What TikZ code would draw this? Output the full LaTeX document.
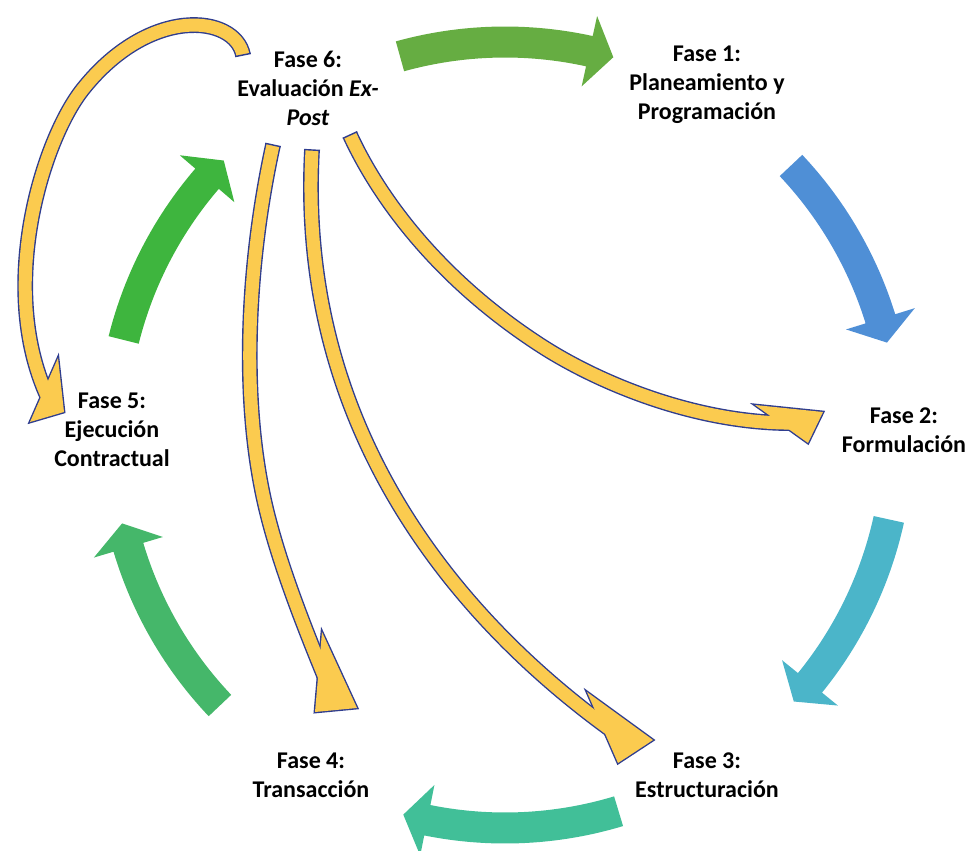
\documentclass[tikz,border=0pt]{standalone}
\usepackage{fontspec}
\setmainfont{Carlito}
\usetikzlibrary{calc}
\definecolor{verdeA}{HTML}{66AD42}
\definecolor{azul}{HTML}{4F8FD6}
\definecolor{cian}{HTML}{4BB5C9}
\definecolor{turquesa}{HTML}{41BF98}
\definecolor{verdeB}{HTML}{45B76A}
\definecolor{verdeC}{HTML}{3EB53E}
\definecolor{amarillo}{HTML}{FBCB4F}
\definecolor{bordeazul}{HTML}{2F3D8F}
\tikzset{
  fase/.style={align=center, font=\fontsize{12}{14.5}\selectfont\bfseries},
  amarilla/.style={draw=bordeazul, line width=0.7pt, double=amarillo, double distance=6.5pt},
  punta/.style={fill=amarillo, draw=bordeazul, line width=1.4pt},
  coda/.style={draw=bordeazul, line width=0.7pt}
}

\begin{document}
\begin{tikzpicture}[x=0.5pt, y=0.5pt]
    % Parametri
    \pgfmathsetmacro{\R}{393}
    \pgfmathsetmacro{\ri}{\R-15.5}
    \pgfmathsetmacro{\ro}{\R+15.5}
    \pgfmathsetmacro{\hi}{\R-36}
    \pgfmathsetmacro{\ho}{\R+36}
    \pgfmathsetmacro{\d}{3.6}
    \useasboundingbox (0,0) rectangle (975,-851);
    \coordinate (c) at (505,-435);
    % ciclo
    \foreach \s/\e/\col in {105.5/74/verdeA, 43.3/13.6/azul, -12.4/-42.7/cian,
        -73.2/-105/turquesa, -136.5/-167/verdeB, 166/135.7/verdeC} {
        \pgfmathsetmacro{\b}{\e+\d}
        \fill[\col] ($(c)+(\s:\ri)$) arc[start angle=\s, end angle=\b, radius=\ri]
            -- ($(c)+(\b:\hi)$) -- ($(c)+(\e:\R)$) -- ($(c)+(\b:\ho)$)
            -- ($(c)+(\b:\ro)$) arc[start angle=\b, end angle=\s, radius=\ro] -- cycle;
    }
    % fasi
    \node[fase] (f6) at (308,-88) {Fase 6:\\Evaluación \textit{Ex-}\\\textit{Post}};
    \node[fase] (f1) at (707,-85) {Fase 1:\\Planeamiento y\\Programación};
    \node[fase] (f2) at (904,-430) {Fase 2:\\Formulación};
    \node[fase] (f3) at (707,-775) {Fase 3:\\Estructuración};
    \node[fase] (f4) at (311,-775) {Fase 4:\\Transacción};
    \node[fase] (f5) at (112,-430) {Fase 5:\\Ejecución\\Contractual};
    % ritorni
    \coordinate (as) at (243,-55);  \coordinate (ak) at (235,-15);
    \coordinate (bs) at (273,-145); \coordinate (bk) at (250,-250);
    \coordinate (cs) at (312,-150); \coordinate (ck) at (296,-440);
    \coordinate (ds) at (350,-135); \coordinate (dk) at (380,-200);
    \coordinate (a1) at (58,-358);  \coordinate (a2) at (64,-412);  \coordinate (a3) at (30,-422);
    \coordinate (b1) at (322,-632); \coordinate (b2) at (357,-708); \coordinate (b3) at (315,-712);
    \coordinate (c1) at (587,-692); \coordinate (c2) at (653,-740); \coordinate (c3) at (618,-763);
    \coordinate (d1) at (755,-405); \coordinate (d2) at (823,-412); \coordinate (d3) at (808,-443);
    \foreach \p in {a,b,c,d}
        \filldraw[punta] (\p1) -- (\p2) -- (\p3) -- cycle;
    \draw[amarilla] (as) .. controls (ak) and (150,-5) .. (83,-89)
        .. controls (43,-139) and (-5,-290) .. (50,-402);
    \draw[amarilla] (bs) .. controls (bk) and (240,-380) .. (262,-490)
        .. controls (275,-556) and (307,-634) .. (330,-690);
    \draw[amarilla] (cs) .. controls (ck) and (470,-630) .. (618,-735);
    \draw[amarilla] (ds) .. controls (dk) and (440,-280) .. (540,-345)
        .. controls (600,-384) and (700,-425) .. (798,-423);
    \foreach \p in {a,b,c,d} {
        \fill[amarillo] (\p1) -- (\p2) -- (\p3) -- cycle;
        \draw[coda] ($(\p s)!4pt!90:(\p k)$) -- ($(\p s)!4pt!-90:(\p k)$);
    }
\end{tikzpicture}
\end{document}
